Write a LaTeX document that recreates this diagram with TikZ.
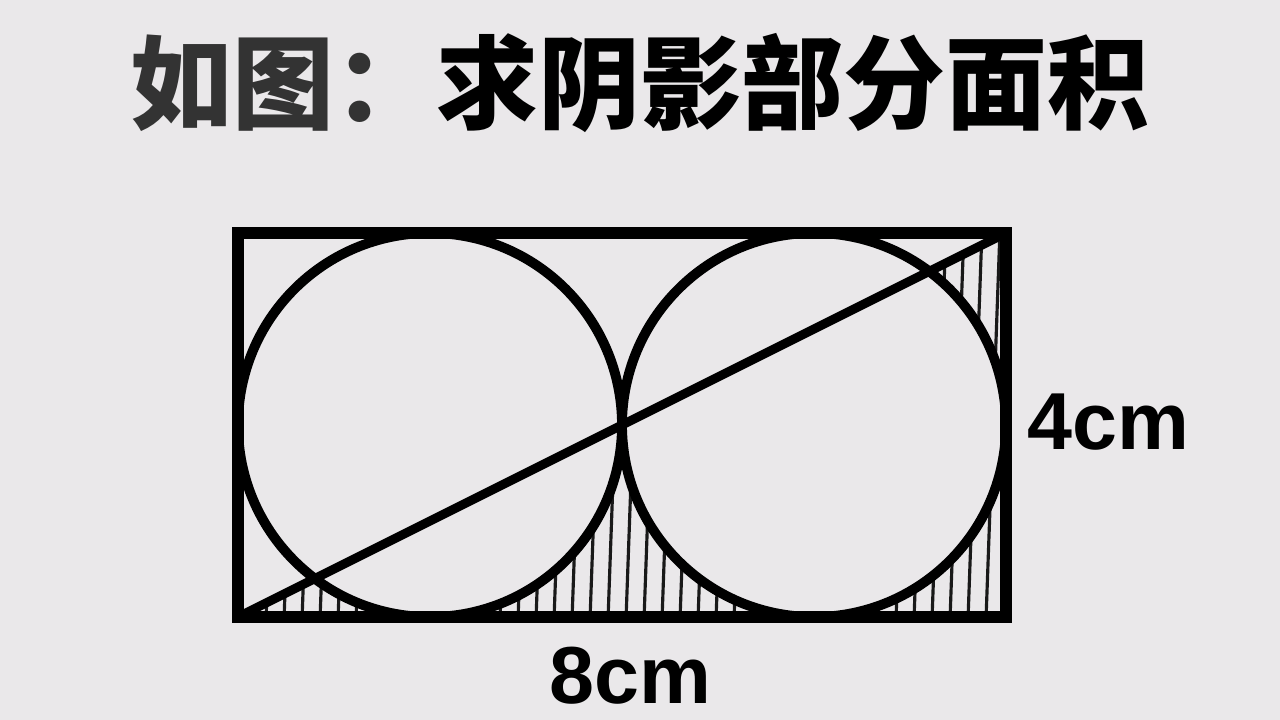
\documentclass[tikz,border=0pt]{standalone}
\usepackage{fontspec}
\setmainfont{Liberation Sans}
\newfontfamily\cjk{Noto Sans CJK SC}
\definecolor{paper}{RGB}{234,232,234}
\tikzset{
  frame/.style={line width=3.4pt, line join=miter},
  ring/.style={line width=2.8pt},
  hatch/.style={line width=0.9pt, black!90},
  dim/.style={inner sep=0pt, font=\bfseries\fontsize{23}{23}\selectfont}
}
\begin{document}
\begin{tikzpicture}
    \fill[paper] (0,0) rectangle (12.8,7.2);
    \useasboundingbox (0,0) rectangle (12.8,7.2);

    \coordinate (A) at (2.38,1.03);
    \coordinate (B) at (10.06,1.03);
    \coordinate (C) at (10.06,4.87);
    \coordinate (D) at (2.38,4.87);
    \coordinate (O1) at (4.30,2.95);
    \coordinate (O2) at (8.14,2.95);

    \begin{scope}
        \clip (A) -- (B) -- (C) -- cycle;
        \foreach \x in {2.30,2.48,...,10.2}
            \draw[hatch] (\x,1.0) -- ++(0.14,3.9);
        \fill[paper] (O1) circle (1.92) (O2) circle (1.92);
    \end{scope}

    \draw[frame] (A) -- (B) -- (C) -- (D) -- cycle;
    \draw[ring] (O1) circle (1.92);
    \draw[ring] (O2) circle (1.92);
    \draw[line width=2.6pt] (A) -- (C);

    \node[inner sep=0pt, anchor=base, font=\cjk\bfseries\fontsize{29}{29}\selectfont] (title) at (6.40,5.98) {{\color{black!80}如图：}求阴影部分面积};
    \node[dim, anchor=base west] (h) at (10.27,2.70) {4cm};
    \node[dim, anchor=base] (w) at (6.30,0.16) {8cm};
\end{tikzpicture}
\end{document}
